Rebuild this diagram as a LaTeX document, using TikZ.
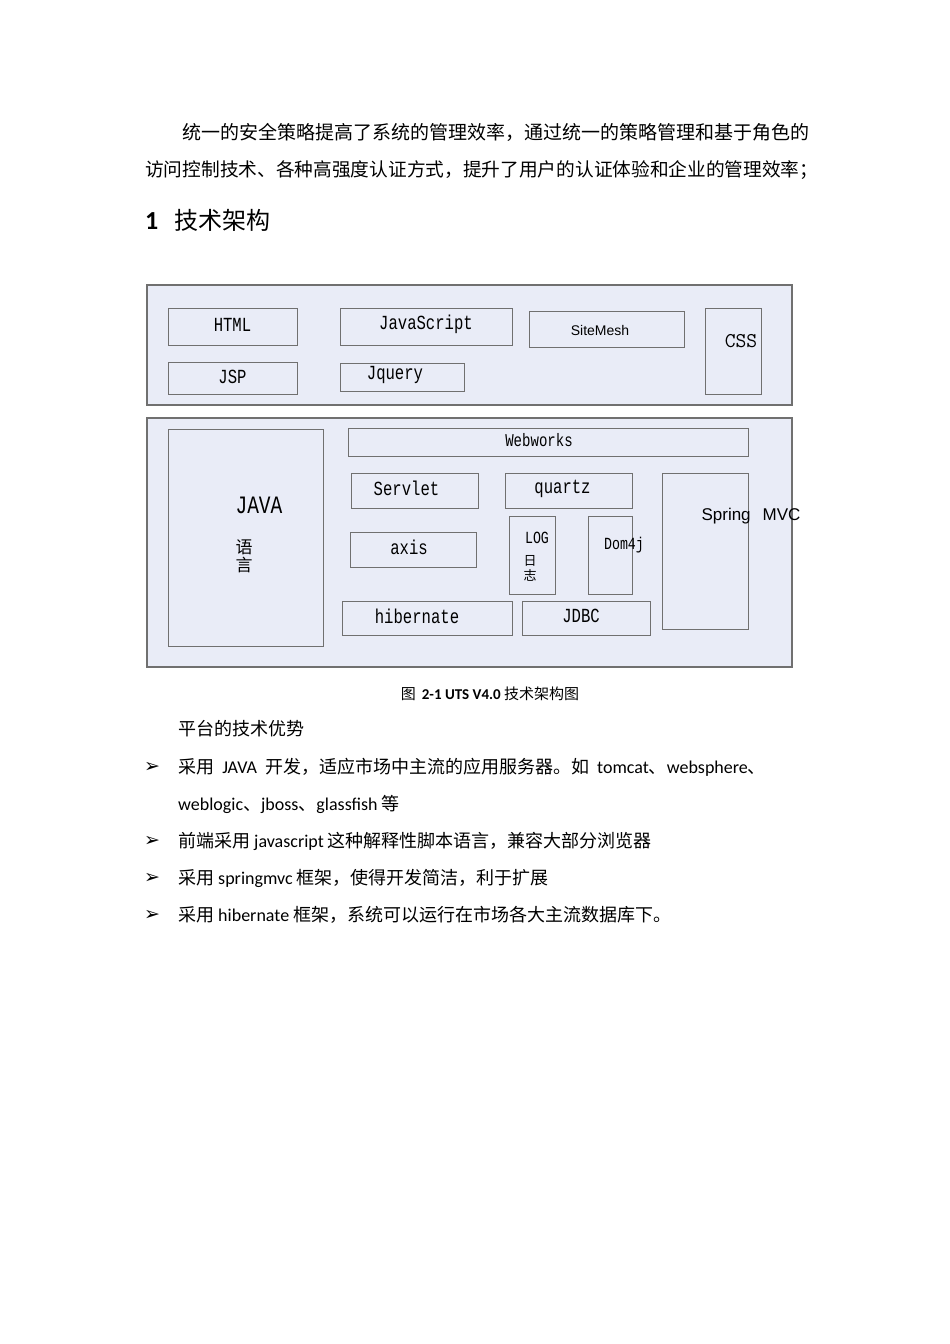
\documentclass[tikz,border=0pt]{standalone}
\usepackage{fontspec}
\setmainfont{Carlito}
\newfontfamily\cjk{Noto Sans CJK SC}
\newfontfamily\dv{DejaVu Sans}
\newfontfamily\lsans{Liberation Sans}
\newfontfamily\nmono[FakeStretch=0.78]{Liberation Mono}
\definecolor{bfill}{HTML}{E9ECF7}
\definecolor{bline}{HTML}{707070}
\tikzset{
 panel/.style={draw=bline, line width=1.2pt, fill=bfill},
 bx/.style={draw=bline, line width=1pt, fill=bfill},
 lab/.style={font=\nmono\fontsize{20}{20}\selectfont, inner sep=0},
 body/.style={anchor=west, inner sep=0, font=\cjk\fontsize{18}{18}\selectfont},
}
\begin{document}
\begin{tikzpicture}[x=1pt,y=-1pt]
\useasboundingbox (0,0) rectangle (950,1344);
\node[body, font=\cjk\fontsize{19}{19}\selectfont] (p1) at (182,132) {统一的安全策略提高了系统的管理效率，通过统一的策略管理和基于角色的};
\node[body, font=\cjk\fontsize{18.7}{19}\selectfont] (p2) at (145,170) {访问控制技术、各种高强度认证方式，提升了用户的认证体验和企业的管理效率；};
\node[body, font=\cjk\fontsize{24}{24}\selectfont] (h) at (145,220) {{\rmfamily\fontsize{26}{26}\selectfont\bfseries 1}\hspace{16pt}技术架构};
% panels
\draw[panel] (147,285) rectangle (792,405);
\draw[panel] (147,418) rectangle (792,667);
\draw[bx] (168,308) rectangle (297,345) node[lab, midway, yshift=2pt] (html) {HTML};
\draw[bx] (168,362) rectangle (297,394) node[lab, midway, yshift=1pt] (jsp) {JSP};
\draw[bx] (340,308) rectangle (512,345) node[lab, midway, yshift=2pt] (js) {JavaScript};
\draw[bx] (340,363) rectangle (464,391) node[lab, midway, xshift=-7pt, yshift=2pt] (jq) {Jquery};
\draw[bx] (529,311) rectangle (684,347);
\node[font=\lsans\fontsize{14}{14}\selectfont] (sm) at (600,330) {SiteMesh};
\draw[bx] (705,308) rectangle (761,394);
\node[lab, font=\ttfamily\fontsize{21}{21}\selectfont] (css) at (741,341) {CSS};
\draw[bx] (168,429) rectangle (323,646);
\node[lab, font=\nmono\fontsize{25}{25}\selectfont] (java) at (259,505) {JAVA};
\node[font=\cjk\fontsize{17}{18}\selectfont, align=center, inner sep=0] (yy) at (244,556) {语\\言};
\draw[bx] (348,428) rectangle (748,456) node[lab, midway, xshift=-9pt, yshift=2pt, font=\nmono\fontsize{18}{18}\selectfont] (ww) {Webworks};
\draw[bx] (351,473) rectangle (478,508) node[lab, midway, xshift=-8pt, yshift=2pt] (sv) {Servlet};
\draw[bx] (505,473) rectangle (632,508) node[lab, midway, xshift=-6pt, yshift=2pt] (qz) {quartz};
\draw[bx] (350,532) rectangle (476,567) node[lab, midway, xshift=-4pt, yshift=2pt] (ax) {axis};
\draw[bx] (509,516) rectangle (555,594);
\node[lab, font=\nmono\fontsize{17}{17}\selectfont] (log) at (537,538) {LOG};
\node[font=\cjk\fontsize{13}{15}\selectfont, align=center, inner sep=0] (rz) at (530,568) {日\\志};
\draw[bx] (588,516) rectangle (632,594);
\node[lab, font=\nmono\fontsize{17}{17}\selectfont] (dom) at (624,545) {Dom4j};
\draw[bx] (342,601) rectangle (512,635) node[lab, midway, xshift=-10pt, yshift=2pt] (hb) {hibernate};
\draw[bx] (522,601) rectangle (650,635) node[lab, midway, xshift=-5pt, yshift=2pt] (jdbc) {JDBC};
\draw[bx] (662,473) rectangle (748,629);
\node[font=\lsans\fontsize{17}{17}\selectfont] (smvc) at (751,516) {Spring\hspace{12pt}MVC};
% caption
\node[inner sep=0, font=\cjk\fontsize{15}{15}\selectfont] (cap) at (490,694) {图\hspace{6pt}{\rmfamily\bfseries 2-1 UTS V4.0} 技术架构图};
\node[body] (adv) at (178,729) {平台的技术优势};
\foreach \y/\t in {767/{采用\ \ {\rmfamily JAVA}\ \ 开发，适应市场中主流的应用服务器。如\ \ {\rmfamily tomcat}、{\rmfamily websphere}、},
  841/{前端采用 {\rmfamily javascript} 这种解释性脚本语言，兼容大部分浏览器},
  878/{采用 {\rmfamily springmvc} 框架，使得开发简洁，利于扩展},
  915/{采用 {\rmfamily hibernate} 框架，系统可以运行在市场各大主流数据库下。}}{
  \node[anchor=west, inner sep=0, font=\dv\fontsize{19}{19}\selectfont] at (144,\y) {➢};
  \node[body] at (178,\y) {\t};
}
\node[body] (wl) at (178,804) {{\rmfamily weblogic}、{\rmfamily jboss}、{\rmfamily glassfish} 等};
\end{tikzpicture}
\end{document}
